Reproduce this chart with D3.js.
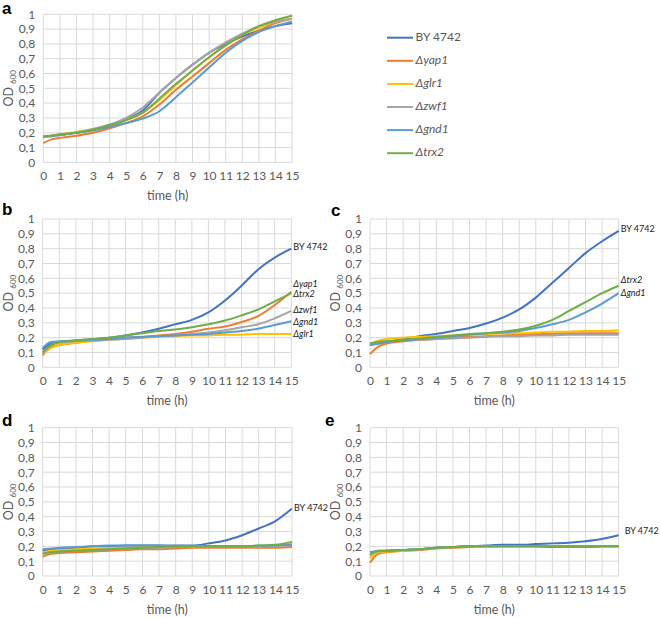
<!DOCTYPE html>
<html><head><meta charset="utf-8">
<script src="https://cdn.jsdelivr.net/npm/d3@7"></script>
<style>body{margin:0;background:#fff}svg{display:block}</style>
</head><body>
<script>
const times = [0,0.5,1,2,3,4,5,6,7,8,9,10,11,12,13,14,15];
const strains = ["BY 4742","Δyap1","Δglr1","Δzwf1","Δgnd1","Δtrx2"];
const colors = ["#4472C4","#ED7D31","#FFC000","#A5A5A5","#5B9BD5","#70AD47"];
const yTicks = [0,0.1,0.2,0.3,0.4,0.5,0.6,0.7,0.8,0.9,1];
const yTickLabels = ["0","0,1","0,2","0,3","0,4","0,5","0,6","0,7","0,8","0,9","1"];
const xTicks = d3.range(0,16);

// panel a
const aBY   = [.17,.18,.185,.2,.22,.25,.29,.35,.47,.57,.66,.74,.80,.85,.89,.92,.94];
const aYap1 = [.13,.155,.165,.18,.2,.23,.265,.31,.39,.49,.58,.67,.76,.83,.89,.94,.97];
const aGlr1 = [.175,.18,.19,.205,.225,.25,.285,.335,.42,.52,.62,.71,.79,.86,.91,.95,.97];
const aZwf1 = [.17,.175,.185,.2,.225,.255,.30,.37,.47,.57,.66,.74,.81,.87,.92,.95,.97];
const aGnd1 = [.175,.18,.185,.2,.215,.24,.265,.295,.345,.44,.54,.64,.74,.82,.88,.92,.95];
const aTrx2 = [.175,.18,.19,.2,.22,.25,.285,.335,.43,.53,.62,.71,.79,.86,.92,.96,.99];
// panel b
const bBY   = [.12,.16,.17,.18,.19,.2,.215,.235,.26,.29,.32,.37,.45,.55,.66,.74,.80];
const bYap1 = [.08,.14,.15,.165,.18,.19,.2,.205,.215,.225,.24,.26,.275,.305,.345,.42,.51];
const bGlr1 = [.09,.13,.15,.165,.175,.185,.195,.2,.205,.21,.215,.215,.22,.22,.225,.225,.225];
const bZwf1 = [.09,.15,.165,.175,.18,.185,.19,.2,.21,.215,.225,.235,.25,.27,.29,.33,.38];
const bGnd1 = [.13,.17,.175,.18,.185,.19,.2,.205,.21,.215,.22,.225,.235,.245,.26,.285,.31];
const bTrx2 = [.10,.15,.17,.18,.19,.20,.215,.23,.245,.255,.27,.29,.315,.35,.39,.445,.50];
// panel c
const cBY   = [.15,.16,.17,.19,.21,.225,.245,.265,.295,.335,.39,.47,.57,.67,.77,.85,.92];
const cYap1 = [.09,.14,.16,.175,.185,.19,.2,.205,.21,.215,.22,.225,.225,.23,.23,.23,.23];
const cGlr1 = [.16,.18,.19,.2,.205,.21,.215,.22,.225,.23,.23,.235,.24,.24,.245,.245,.25];
const cZwf1 = [.16,.17,.175,.18,.185,.19,.195,.2,.205,.21,.21,.215,.215,.22,.22,.22,.22];
const cGnd1 = [.15,.16,.17,.18,.19,.2,.21,.22,.23,.235,.245,.265,.29,.32,.37,.43,.50];
const cTrx2 = [.16,.17,.175,.185,.195,.205,.215,.225,.23,.24,.255,.28,.32,.38,.44,.50,.55];
// panel d
const dBY   = [.17,.18,.185,.19,.2,.2,.205,.205,.205,.205,.205,.22,.24,.275,.32,.37,.455];
const dYap1 = [.13,.15,.155,.16,.165,.17,.175,.18,.18,.185,.19,.19,.19,.19,.19,.19,.195];
const dGlr1 = [.16,.17,.175,.18,.185,.19,.19,.195,.195,.195,.2,.2,.2,.2,.2,.205,.215];
const dZwf1 = [.15,.16,.165,.17,.175,.18,.185,.19,.19,.195,.195,.2,.2,.2,.2,.205,.21];
const dGnd1 = [.18,.185,.19,.195,.2,.205,.205,.205,.205,.2,.2,.2,.2,.2,.205,.205,.21];
const dTrx2 = [.15,.16,.165,.17,.175,.18,.185,.19,.195,.2,.2,.2,.2,.2,.205,.21,.23];
// panel e
const eBY   = [.16,.165,.17,.175,.18,.19,.195,.2,.205,.21,.21,.215,.22,.225,.235,.25,.275];
const eYap1 = [.09,.15,.16,.17,.175,.185,.19,.195,.2,.2,.2,.2,.2,.2,.2,.2,.2];
const eGlr1 = [.12,.16,.165,.17,.18,.19,.195,.2,.2,.2,.2,.2,.2,.2,.2,.2,.2];
const eZwf1 = [.15,.165,.17,.175,.18,.19,.195,.2,.2,.2,.2,.2,.2,.2,.2,.2,.2];
const eGnd1 = [.16,.17,.17,.175,.18,.19,.195,.2,.2,.2,.2,.2,.195,.195,.195,.2,.2];
const eTrx2 = [.14,.17,.17,.175,.18,.19,.195,.2,.2,.2,.2,.2,.2,.2,.2,.2,.2];

const panels = [
  {id:"a", x0:43.3, x1:292, y0:14.3, y1:162.3, lx:2, ly:14, series:[aBY,aYap1,aGlr1,aZwf1,aGnd1,aTrx2], labels:[]},
  {id:"b", x0:42.7, x1:291.3, y0:219, y1:367.3, lx:2, ly:215, series:[bBY,bYap1,bGlr1,bZwf1,bGnd1,bTrx2],
    labels:[["BY 4742",248,false],["Δyap1",285,true],["Δtrx2",295,true],["Δzwf1",311,true],["Δgnd1",323,true],["Δglr1",335,true]]},
  {id:"c", x0:370, x1:618.7, y0:219, y1:367.3, lx:331, ly:216, series:[cBY,cYap1,cGlr1,cZwf1,cGnd1,cTrx2],
    labels:[["BY 4742",230,false],["Δtrx2",281,true],["Δgnd1",294,true]]},
  {id:"d", x0:42.7, x1:292, y0:427.7, y1:576, lx:2, ly:426, series:[dBY,dYap1,dGlr1,dZwf1,dGnd1,dTrx2],
    labels:[["BY 4742",509,false]]},
  {id:"e", x0:370, x1:618.7, y0:427.7, y1:576, lx:325, ly:426, series:[eBY,eYap1,eGlr1,eZwf1,eGnd1,eTrx2],
    labels:[["BY 4742",532,false,4]]}
];

const svg = d3.select("body").append("svg").attr("width",660).attr("height",618);
const font = "Lato, 'Open Sans', sans-serif";

panels.forEach(p => {
  const x = d3.scaleLinear().domain([0,15]).range([p.x0,p.x1]);
  const y = d3.scaleLinear().domain([0,1]).range([p.y1,p.y0]);
  const g = svg.append("g");
  // grid
  g.append("g").selectAll("line").data(xTicks).join("line")
    .attr("x1",d=>x(d)).attr("x2",d=>x(d)).attr("y1",p.y0).attr("y2",p.y1)
    .attr("stroke","#d9d9d9").attr("stroke-width",1);
  g.append("g").selectAll("line").data(yTicks).join("line")
    .attr("y1",d=>y(d)).attr("y2",d=>y(d)).attr("x1",p.x0).attr("x2",p.x1)
    .attr("stroke","#d9d9d9").attr("stroke-width",1);
  // axes labels
  const yAx = d3.axisLeft(y).tickValues(yTicks).tickFormat((d,i)=>yTickLabels[i]).tickSize(0).tickPadding(8);
  const ya = g.append("g").attr("transform",`translate(${p.x0},0)`).call(yAx);
  ya.select(".domain").remove();
  ya.selectAll("text").attr("font-family",font).attr("font-size",12).attr("fill","#595959");
  const xAx = d3.axisBottom(x).tickValues(xTicks).tickFormat(d3.format("d")).tickSize(0).tickPadding(9);
  const xa = g.append("g").attr("transform",`translate(0,${p.y1})`).call(xAx);
  xa.select(".domain").remove();
  xa.selectAll("text").attr("font-family",font).attr("font-size",12).attr("fill","#595959");
  // axis titles
  g.append("text").attr("x",(p.x0+p.x1)/2).attr("y",p.y1+38)
    .attr("text-anchor","middle").attr("font-family",font).attr("font-size",12.5).attr("fill","#595959").text("time (h)");
  const yt = g.append("text").attr("transform",`translate(${p.x0-30},${(p.y0+p.y1)/2}) rotate(-90)`)
    .attr("text-anchor","middle").attr("font-family",font).attr("font-size",12.5).attr("fill","#595959");
  yt.append("tspan").text("OD ");
  yt.append("tspan").attr("font-size",8).attr("dy",3).text("600");
  // lines
  const line = d3.line().x((d,i)=>x(times[i])).y(d=>y(d)).curve(d3.curveMonotoneX);
  p.series.forEach((s,i)=>{
    g.append("path").datum(s).attr("d",line).attr("fill","none")
      .attr("stroke",colors[i]).attr("stroke-width",2).attr("stroke-linejoin","round");
  });
  // end labels
  p.labels.forEach(l=>{
    g.append("text").attr("x",p.x1+2+(l[3]||0)).attr("y",l[1]).attr("dominant-baseline","middle")
      .attr("font-family",font).attr("font-size",9).attr("fill","#1a1a1a")
      .attr("font-style",l[2]?"italic":"normal").text(l[0]);
  });
  // panel letter
  svg.append("text").attr("x",p.lx).attr("y",p.ly).attr("font-family","'Liberation Sans', Arial, sans-serif")
    .attr("font-weight","bold").attr("font-size",17).attr("fill","#000").text(p.id);
});

// legend
const leg = svg.append("g");
strains.forEach((s,i)=>{
  const yy = 37.7 + i*23.1;
  leg.append("line").attr("x1",387).attr("x2",413).attr("y1",yy).attr("y2",yy)
    .attr("stroke",colors[i]).attr("stroke-width",2);
  leg.append("text").attr("x",415.5).attr("y",yy).attr("dominant-baseline","middle")
    .attr("font-family",font).attr("font-size",12).attr("fill","#595959")
    .attr("font-style",i===0?"normal":"italic").text(s);
});
</script>
</body></html>
